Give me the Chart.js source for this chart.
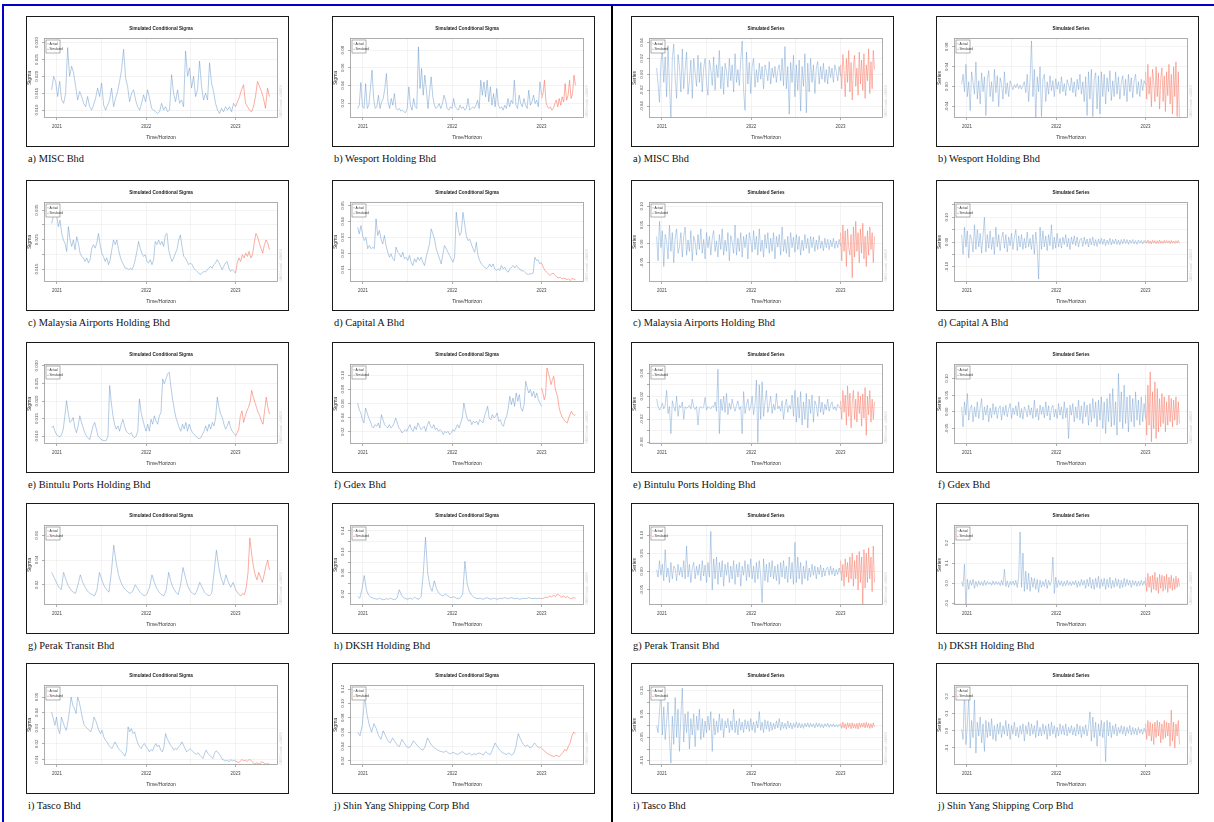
<!DOCTYPE html>
<html>
<head>
<meta charset="utf-8">
<script src="https://cdn.jsdelivr.net/npm/chart.js@4.4.0/dist/chart.umd.min.js"></script>
<style>
html, body { margin: 0; padding: 0; background: #fff; }
body { width: 1214px; height: 822px; position: relative; overflow: hidden; font-family: "Liberation Serif", "Times New Roman", serif; }
#frame { position: absolute; left: 2px; top: 4px; width: 1230px; height: 840px; border: 2px solid #0000c8; box-sizing: border-box; }
#divider { position: absolute; left: 611px; top: 6px; width: 2px; height: 816px; background: #000; }
.panel { position: absolute; width: 263px; height: 131px; border: 1.5px solid #1a1a1a; box-sizing: border-box; background: #fff; }
.panel canvas { position: absolute; left: 0; top: 0; }
.cap { position: absolute; font-size: 10.4px; line-height: 12px; color: #111; white-space: nowrap; }
</style>
</head>
<body>
<div id="frame"></div>
<div id="divider"></div>
<script>
// --- time axis ---
const T0 = 2020.94, T1 = 2023.0, T2 = 2023.38;
const xGrid = [2021, 2021.5, 2022, 2022.5, 2023];
const xLabels = ['2021', '', '2022', '', '2023'];

// --- Simulated Conditional Sigma (left half) ---
const aSigAct = [0.016,0.020,0.0185,0.014,0.0185,0.013,0.012,0.015,0.0285,0.020,0.023,0.021,0.017,0.013,0.0155,0.014,0.012,0.011,0.014,0.011,0.010,0.0115,0.0135,0.0165,0.014,0.018,0.0115,0.010,0.0115,0.013,0.0165,0.011,0.0135,0.0155,0.0185,0.022,0.028,0.0195,0.017,0.0125,0.015,0.016,0.013,0.011,0.010,0.012,0.0145,0.0125,0.016,0.0135,0.0105,0.010,0.0095,0.009,0.0095,0.012,0.010,0.011,0.0095,0.010,0.0205,0.015,0.0125,0.016,0.012,0.013,0.011,0.0275,0.020,0.0225,0.0165,0.020,0.014,0.016,0.0245,0.017,0.013,0.015,0.013,0.024,0.018,0.0155,0.012,0.010,0.009,0.0105,0.0095,0.011,0.010,0.011,0.0095,0.012,0.011];
const aSigSim = [0.011,0.0125,0.014,0.016,0.0175,0.012,0.011,0.010,0.0095,0.011,0.014,0.0185,0.017,0.0155,0.0135,0.0105,0.0165,0.014];
const aSigTicks = [0.010, 0.015, 0.020, 0.025, 0.030];
const aSigLabels = ['0.010', '0.015', '0.020', '0.025', '0.030'];

const bSigAct = [0.014,0.0177,0.0434,0.0159,0.014,0.0422,0.014,0.0177,0.0366,0.0573,0.0253,0.014,0.0159,0.029,0.014,0.0215,0.0253,0.0366,0.0536,0.0215,0.014,0.0253,0.0177,0.0309,0.014,0.0121,0.014,0.011,0.0121,0.0102,0.0094,0.014,0.0385,0.0177,0.0121,0.0253,0.0159,0.014,0.0837,0.0366,0.0592,0.029,0.0517,0.0347,0.014,0.0328,0.0498,0.0272,0.0177,0.014,0.0159,0.0196,0.014,0.0196,0.029,0.0234,0.014,0.0121,0.0159,0.014,0.0253,0.0159,0.014,0.0121,0.0177,0.014,0.0159,0.0121,0.014,0.0253,0.0121,0.014,0.0159,0.014,0.0177,0.0234,0.014,0.046,0.029,0.0441,0.0272,0.046,0.0215,0.0385,0.0177,0.0309,0.0159,0.0366,0.0177,0.014,0.0159,0.0121,0.0177,0.014,0.0253,0.0159,0.0234,0.0196,0.046,0.0177,0.014,0.029,0.0196,0.0159,0.0253,0.0177,0.014,0.0347,0.0177,0.0215,0.029,0.0196,0.0234,0.0159,0.0441,0.029];
const bSigSim = [0.0253,0.0309,0.046,0.0215,0.0159,0.014,0.0159,0.0121,0.014,0.0196,0.0234,0.0159,0.0253,0.0177,0.0272,0.0215,0.0422,0.0234,0.029,0.046,0.0253,0.0309,0.0517,0.0404];
const bSigTicks = [0.02, 0.04, 0.06, 0.08];
const bSigLabels = ['0.02', '0.04', '0.06', '0.08'];

const cSigAct = [0.0305,0.0327,0.036,0.0333,0.0294,0.0316,0.0271,0.0249,0.0238,0.021,0.0294,0.0249,0.0227,0.0249,0.0216,0.026,0.0238,0.0204,0.0193,0.0188,0.0176,0.0188,0.0171,0.0182,0.0221,0.0233,0.0221,0.0238,0.0271,0.0233,0.0204,0.0193,0.0176,0.0188,0.0165,0.0182,0.0216,0.0249,0.0233,0.0249,0.0216,0.0193,0.0176,0.0165,0.0153,0.0153,0.0148,0.0153,0.0148,0.016,0.0182,0.021,0.0244,0.0221,0.0204,0.0193,0.0199,0.0176,0.0171,0.0182,0.0165,0.0182,0.0244,0.0233,0.0249,0.0233,0.0244,0.0227,0.0266,0.0271,0.0216,0.0193,0.0176,0.0188,0.0204,0.0216,0.0249,0.0266,0.0227,0.0193,0.0188,0.0176,0.0165,0.0171,0.0165,0.0153,0.0148,0.0142,0.0137,0.0131,0.0137,0.0142,0.014,0.0148,0.0153,0.016,0.0153,0.0165,0.0171,0.0182,0.0173,0.016,0.0148,0.016,0.0171,0.0176,0.0153,0.0142,0.0148,0.0142,0.0137];
const cSigSim = [0.0137,0.0171,0.0188,0.0176,0.0199,0.0188,0.0204,0.0193,0.021,0.0188,0.0199,0.0238,0.0271,0.026,0.0238,0.0221,0.0204,0.0233,0.0249,0.0238,0.0216];
const cSigTicks = [0.015, 0.020, 0.025, 0.030, 0.035];
const cSigLabels = ['0.015', '', '0.025', '', '0.035'];

const dSigAct = [0.0365,0.0323,0.0375,0.0313,0.0281,0.03,0.023,0.025,0.023,0.024,0.023,0.0417,0.0313,0.0344,0.029,0.026,0.0313,0.025,0.0208,0.0177,0.0198,0.0167,0.0156,0.024,0.0208,0.0198,0.0177,0.0208,0.0167,0.0177,0.0156,0.0188,0.0146,0.0125,0.0167,0.0146,0.0177,0.0156,0.0177,0.0146,0.0125,0.0177,0.0219,0.026,0.0354,0.0323,0.029,0.023,0.0198,0.0167,0.0135,0.0198,0.025,0.023,0.0208,0.0188,0.0167,0.0146,0.0177,0.0458,0.0365,0.0313,0.0333,0.0458,0.0385,0.0313,0.0281,0.029,0.026,0.023,0.0208,0.027,0.0188,0.0156,0.0135,0.0125,0.0115,0.0104,0.0115,0.0135,0.0115,0.0135,0.0104,0.0094,0.0104,0.0094,0.0125,0.0104,0.0115,0.0094,0.0083,0.0104,0.0115,0.0125,0.011,0.0125,0.011,0.0104,0.009,0.0094,0.0083,0.0073,0.0069,0.0073,0.0073,0.0077,0.0177,0.0156,0.016,0.0135,0.0146];
const dSigSim = [0.014,0.0115,0.0094,0.0083,0.0073,0.0063,0.0073,0.0077,0.0063,0.0052,0.0048,0.0052,0.0042,0.0046,0.0042,0.0038,0.004,0.0031,0.0044,0.004,0.0035];
const dSigTicks = [0.01, 0.02, 0.03, 0.04, 0.05];
const dSigLabels = ['0.01', '0.02', '0.03', '0.04', '0.05'];

const eSigAct = [0.0124,0.0129,0.0114,0.0104,0.01,0.0098,0.0104,0.012,0.0158,0.0201,0.0167,0.0139,0.0143,0.0153,0.0124,0.011,0.0129,0.0158,0.0139,0.0124,0.011,0.01,0.0095,0.009,0.011,0.0129,0.0139,0.012,0.01,0.0095,0.009,0.0088,0.0087,0.0088,0.01,0.0244,0.0196,0.0158,0.0134,0.012,0.0129,0.0114,0.0134,0.0148,0.0129,0.0114,0.011,0.0105,0.011,0.01,0.0095,0.01,0.0114,0.0206,0.0167,0.0148,0.0129,0.0114,0.0134,0.0114,0.0148,0.0134,0.0158,0.0143,0.0134,0.0158,0.0167,0.0263,0.0249,0.0263,0.0277,0.0282,0.0239,0.0206,0.0177,0.0153,0.0139,0.0124,0.0114,0.0134,0.012,0.0139,0.0114,0.0134,0.012,0.011,0.0105,0.01,0.0095,0.0093,0.0095,0.0105,0.0114,0.0129,0.0114,0.0134,0.012,0.0139,0.0129,0.0153,0.0211,0.0182,0.0163,0.0153,0.0134,0.012,0.0129,0.0143,0.0124,0.0114,0.0108,0.0102];
const eSigSim = [0.01,0.011,0.012,0.0158,0.0172,0.0139,0.0158,0.0172,0.0182,0.0196,0.023,0.0211,0.0196,0.0182,0.0167,0.0158,0.0143,0.0134,0.0172,0.0211,0.0182,0.0163];
const eSigTicks = [0.010, 0.015, 0.020, 0.025, 0.030];
const eSigLabels = ['0.010', '0.015', '0.020', '0.025', '0.030'];

const fSigAct = [0.0607,0.0513,0.0466,0.0372,0.0325,0.0536,0.0466,0.0395,0.0348,0.0278,0.0254,0.0301,0.0278,0.0325,0.0254,0.0442,0.0372,0.0301,0.0278,0.0254,0.0301,0.0254,0.0278,0.0325,0.0395,0.0325,0.0254,0.0231,0.0184,0.0207,0.0231,0.0207,0.0254,0.0301,0.0231,0.0207,0.0278,0.0231,0.0325,0.0278,0.0231,0.0254,0.0278,0.0207,0.0301,0.0348,0.0278,0.0254,0.0301,0.0231,0.0254,0.0207,0.0231,0.0207,0.016,0.0207,0.0184,0.0207,0.016,0.0184,0.0231,0.0207,0.0254,0.0301,0.0254,0.0325,0.0395,0.0607,0.0489,0.0395,0.0348,0.0372,0.0301,0.0348,0.0325,0.0348,0.0301,0.0372,0.0348,0.0325,0.0419,0.0489,0.056,0.0395,0.0372,0.0442,0.0395,0.0419,0.0466,0.0348,0.0372,0.0301,0.0278,0.0372,0.0419,0.0536,0.0701,0.0584,0.0678,0.056,0.0748,0.0631,0.0725,0.0536,0.0489,0.0584,0.0913,0.0819,0.0748,0.0795,0.0701,0.0772,0.0678,0.0748,0.0654,0.0607,0.056];
const fSigSim = [0.0819,0.0748,0.0654,0.0725,0.1101,0.103,0.096,0.0866,0.0936,0.0983,0.0819,0.0748,0.0678,0.0536,0.0466,0.0419,0.0386,0.0358,0.0339,0.0325,0.0395,0.0442,0.0489,0.0452,0.0433,0.0442];
const fSigTicks = [0.02, 0.04, 0.06, 0.08, 0.10];
const fSigLabels = ['0.02', '0.04', '0.06', '0.08', '0.10'];

const gSigAct = [0.030,0.026,0.022,0.018,0.016,0.030,0.024,0.019,0.016,0.014,0.013,0.020,0.028,0.022,0.018,0.015,0.013,0.012,0.011,0.016,0.030,0.024,0.019,0.016,0.014,0.030,0.052,0.038,0.028,0.022,0.018,0.016,0.014,0.013,0.015,0.020,0.017,0.014,0.012,0.011,0.013,0.018,0.028,0.022,0.017,0.014,0.012,0.011,0.016,0.030,0.022,0.017,0.014,0.012,0.020,0.034,0.026,0.019,0.015,0.013,0.012,0.016,0.022,0.018,0.014,0.012,0.011,0.013,0.030,0.048,0.034,0.025,0.020,0.028,0.022,0.018,0.022,0.016];
const gSigSim = [0.016,0.014,0.012,0.011,0.013,0.012,0.018,0.030,0.058,0.045,0.035,0.028,0.024,0.030,0.026,0.022,0.028,0.035,0.040,0.032];
const gSigTicks = [0.02, 0.04, 0.06];
const gSigLabels = ['0.02', '0.04', '0.06'];

const hSigAct = [0.015,0.012,0.030,0.055,0.028,0.018,0.014,0.012,0.011,0.010,0.012,0.010,0.009,0.011,0.010,0.012,0.010,0.009,0.012,0.028,0.018,0.013,0.011,0.010,0.012,0.010,0.014,0.011,0.010,0.015,0.060,0.128,0.060,0.035,0.025,0.045,0.030,0.022,0.018,0.016,0.020,0.017,0.014,0.013,0.015,0.012,0.011,0.013,0.020,0.082,0.040,0.025,0.018,0.014,0.012,0.011,0.012,0.010,0.011,0.013,0.011,0.010,0.012,0.011,0.010,0.012,0.011,0.013,0.012,0.011,0.013,0.012,0.011,0.012,0.010,0.011,0.012,0.011,0.013,0.012,0.011,0.012,0.011,0.012,0.011];
const hSigSim = [0.011,0.012,0.014,0.013,0.016,0.014,0.018,0.015,0.020,0.017,0.014,0.016,0.013,0.015,0.012,0.011,0.013,0.012];
const hSigTicks = [0.02, 0.04, 0.06, 0.08, 0.10, 0.12, 0.14];
const hSigLabels = ['0.02', '', '0.06', '', '0.10', '', '0.14'];

const iSigAct = [0.0404,0.0362,0.0319,0.0372,0.0298,0.0266,0.0372,0.034,0.0309,0.0287,0.034,0.0415,0.05,0.0447,0.0426,0.0394,0.05,0.0468,0.0415,0.0362,0.0319,0.0309,0.0298,0.0287,0.0277,0.0309,0.0372,0.0351,0.0319,0.0287,0.0266,0.0287,0.0245,0.0223,0.0213,0.0192,0.0181,0.017,0.0192,0.0213,0.0192,0.017,0.016,0.0149,0.0138,0.0121,0.0155,0.0309,0.0277,0.0298,0.0266,0.0277,0.0234,0.0202,0.0181,0.017,0.0192,0.0202,0.0181,0.017,0.0149,0.0164,0.0155,0.0181,0.0202,0.0181,0.0192,0.016,0.0149,0.0181,0.0266,0.0234,0.0213,0.0192,0.0181,0.016,0.017,0.0164,0.0181,0.0192,0.0213,0.0192,0.017,0.0149,0.016,0.017,0.016,0.0149,0.0138,0.0134,0.0143,0.0128,0.0117,0.0106,0.0138,0.016,0.0138,0.0128,0.0117,0.0106,0.0138,0.0155,0.0149,0.0134,0.0117,0.01,0.0096,0.0091,0.0096,0.0085,0.01,0.0091,0.0096,0.0091];
const iSigSim = [0.0089,0.0085,0.0079,0.0091,0.01,0.0091,0.0096,0.0087,0.0096,0.01,0.0089,0.0079,0.007,0.0079,0.0074,0.007,0.0085,0.0083,0.0074,0.007,0.0074,0.007];
const iSigTicks = [0.01, 0.02, 0.03, 0.04, 0.05];
const iSigLabels = ['0.01', '0.02', '0.03', '0.04', '0.05'];

const jSigAct = [0.060,0.055,0.070,0.110,0.085,0.070,0.060,0.072,0.065,0.055,0.050,0.062,0.055,0.048,0.045,0.052,0.047,0.042,0.040,0.050,0.045,0.040,0.038,0.042,0.048,0.044,0.040,0.037,0.035,0.040,0.052,0.046,0.041,0.038,0.036,0.034,0.033,0.032,0.034,0.031,0.030,0.032,0.030,0.029,0.031,0.033,0.030,0.029,0.031,0.028,0.030,0.029,0.031,0.030,0.028,0.033,0.030,0.029,0.036,0.045,0.040,0.035,0.032,0.030,0.029,0.031,0.028,0.030,0.040,0.058,0.050,0.044,0.040,0.042,0.038,0.040,0.045,0.041,0.038,0.040];
const jSigSim = [0.038,0.035,0.033,0.031,0.029,0.028,0.027,0.026,0.028,0.027,0.026,0.029,0.032,0.036,0.034,0.040,0.045,0.055,0.060,0.058];
const jSigTicks = [0.02, 0.04, 0.06, 0.08, 0.10, 0.12];
const jSigLabels = ['0.02', '0.04', '0.06', '0.08', '0.10', '0.12'];

// --- Simulated Series (right half) ---
const aSerAct = [0.008,-0.012,-0.035,0.015,0.030,-0.010,0.022,-0.028,0.036,-0.015,-0.055,0.020,0.038,-0.005,-0.030,0.025,0.010,-0.022,0.032,-0.018,0.005,0.028,-0.025,-0.008,0.018,-0.030,0.020,0.002,-0.015,0.024,-0.010,0.015,-0.022,0.008,0.020,-0.012,-0.026,0.018,0.006,-0.014,0.022,-0.020,0.012,-0.004,0.030,-0.018,0.010,-0.025,0.014,0.004,-0.016,0.020,-0.008,0.012,-0.022,0.026,-0.010,0.006,-0.014,0.018,0.042,-0.020,-0.045,0.028,-0.012,0.015,-0.024,0.010,0.020,-0.016,0.006,-0.010,0.014,-0.006,0.010,-0.018,0.012,0.004,-0.008,0.016,-0.012,0.008,-0.004,0.010,-0.010,0.006,0.012,-0.008,0.020,-0.014,0.035,-0.018,0.010,-0.050,0.015,-0.010,0.024,-0.028,0.012,-0.020,0.018,-0.046,0.010,-0.015,0.026,-0.048,0.014,-0.022,0.020,-0.010,0.012,-0.024,0.008,0.016,-0.012,0.010,-0.006,0.014,-0.010,0.006,-0.012,0.010,-0.004,0.008,-0.010,0.012,0.004,-0.008,0.010,-0.002];
const aSerSim = [0.012,-0.018,0.025,0.005,-0.028,0.020,-0.010,0.030,-0.022,0.015,-0.032,0.010,0.024,-0.015,0.008,-0.026,0.028,-0.012,0.018,-0.020,0.026,-0.030,0.012,-0.008,0.032,-0.024,0.016,-0.018,0.030,0.006];
const aSerTicks = [-0.04, -0.02, 0.00, 0.02, 0.04];
const aSerLabels = ['-0.04', '-0.02', '0.00', '0.02', '0.04'];

const bSerAct = [0.005,0.025,-0.010,0.045,-0.020,0.010,-0.048,0.030,0.008,-0.015,0.050,-0.025,0.012,-0.035,0.028,-0.010,0.020,-0.058,0.015,0.032,-0.020,0.010,-0.030,0.035,-0.012,0.022,-0.040,0.018,0.005,-0.025,0.030,-0.015,0.008,-0.020,0.012,0.002,-0.006,0.004,-0.002,0.006,-0.004,0.003,-0.005,0.002,0.010,-0.012,0.025,-0.030,0.015,0.092,-0.020,0.035,-0.065,0.020,-0.010,0.040,-0.060,0.015,0.025,-0.030,0.010,-0.015,0.022,-0.008,0.012,-0.020,0.016,-0.005,0.010,-0.014,0.020,-0.010,0.006,-0.018,0.014,0.004,-0.008,0.018,-0.012,0.010,-0.020,0.015,-0.006,0.025,-0.015,0.010,-0.030,0.020,-0.058,0.030,-0.025,0.035,-0.060,0.015,0.028,-0.045,0.022,-0.055,0.030,-0.020,0.025,-0.035,0.018,-0.010,0.032,-0.028,0.012,-0.020,0.030,-0.015,0.020,-0.025,0.008,0.022,-0.018,0.015,-0.030,0.025,-0.010,0.018,-0.022,0.012,0.025,-0.015,0.010,-0.020,0.015,-0.008,0.012,0.004];
const bSerSim = [0.030,-0.025,0.045,-0.015,0.020,-0.040,0.035,0.010,-0.030,0.040,-0.020,0.028,-0.045,0.015,0.038,-0.030,0.022,-0.050,0.030,-0.018,0.045,-0.035,0.025,-0.055,0.040,-0.020,0.050,-0.060,0.030,-0.065];
const bSerTicks = [-0.04, 0.00, 0.04, 0.08];
const bSerLabels = ['-0.04', '0.00', '0.04', '0.08'];

const cSerAct = [0.020,-0.045,0.060,-0.010,0.035,-0.060,0.025,0.008,-0.040,0.050,-0.020,0.030,-0.050,0.015,0.040,-0.025,-0.008,0.030,-0.035,0.020,0.045,-0.030,0.010,-0.020,0.035,-0.045,0.020,0.005,-0.030,0.025,-0.015,0.040,-0.025,0.012,-0.040,0.030,-0.010,0.020,-0.030,0.015,0.035,-0.020,0.008,-0.035,0.025,-0.015,0.040,-0.030,0.010,-0.020,0.030,-0.045,0.022,0.005,-0.025,0.050,-0.030,0.015,-0.020,0.030,-0.035,0.020,-0.010,0.025,-0.040,0.030,0.008,-0.022,0.035,-0.015,0.020,-0.030,0.040,-0.020,0.010,-0.035,0.025,-0.012,0.030,-0.025,0.015,-0.020,0.030,-0.040,0.020,-0.008,0.025,-0.030,0.045,-0.020,0.012,-0.025,0.020,-0.035,0.030,-0.010,0.018,-0.022,0.025,-0.015,0.020,-0.030,0.010,-0.018,0.025,-0.012,0.015,-0.025,0.020,-0.010,0.018,-0.020,0.010,-0.015,0.022,-0.012,0.008,-0.018,0.015,-0.010,0.012,-0.015,0.010,-0.008,0.015,-0.012,0.008,-0.010,0.012,-0.006];
const cSerSim = [0.030,-0.045,0.050,-0.020,0.035,-0.060,0.040,-0.010,-0.030,0.025,-0.090,0.045,-0.035,0.060,-0.020,0.030,-0.050,0.040,-0.025,0.055,-0.040,0.020,-0.060,0.035,-0.030,0.045,-0.015,0.030,-0.050,0.020];
const cSerTicks = [-0.05, 0.00, 0.05, 0.10];
const cSerLabels = ['-0.05', '0.00', '0.05', '0.10'];

const dSerAct = [0.030,-0.050,0.060,-0.020,0.045,-0.065,0.030,0.010,-0.040,0.070,-0.030,0.050,-0.020,0.035,-0.045,0.025,0.100,-0.040,0.030,-0.025,0.045,-0.030,0.020,-0.050,0.060,-0.020,0.030,-0.035,0.015,0.040,-0.025,0.030,-0.040,0.020,-0.015,0.035,-0.030,0.020,0.050,-0.035,0.025,-0.020,0.030,-0.030,0.015,-0.025,0.040,-0.020,0.015,-0.030,0.030,-0.050,0.040,-0.020,-0.150,0.060,-0.030,0.045,-0.020,0.025,-0.035,0.030,-0.015,0.070,-0.030,0.020,-0.025,0.035,-0.020,0.015,-0.025,0.020,-0.010,0.030,-0.020,0.015,-0.030,0.020,-0.010,0.025,-0.015,0.020,-0.020,0.010,0.015,-0.018,0.020,-0.010,0.012,-0.020,0.015,-0.012,0.020,-0.015,0.010,-0.018,0.012,-0.008,0.015,-0.010,0.012,-0.015,0.008,-0.010,0.015,-0.012,0.010,-0.008,0.012,-0.010,0.008,-0.012,0.010,-0.008,0.012,-0.006,0.010,-0.010,0.008,-0.006,0.010,-0.008,0.006,-0.010,0.008,-0.005,0.007,-0.008,0.006,-0.004];
const dSerSim = [0.006,-0.005,0.008,-0.006,0.004,-0.008,0.007,-0.004,0.006,-0.007,0.005,-0.006,0.008,-0.005,0.004,-0.006,0.007,-0.005,0.006,-0.004,0.005,-0.007,0.006,-0.005,0.004,-0.006,0.005,-0.004,0.006,-0.005];
const dSerTicks = [-0.10, -0.05, 0.00, 0.05, 0.10, 0.15];
const dSerLabels = ['-0.10', '', '0.00', '', '0.10', ''];

const eSerAct = [0.015,0.002,-0.004,0.000,0.008,-0.002,0.004,0.030,-0.010,0.002,-0.045,0.012,0.002,-0.006,0.020,-0.015,0.004,0.000,0.010,-0.020,0.002,-0.001,0.001,0.004,-0.002,0.015,0.001,-0.003,0.002,-0.030,0.000,0.002,-0.001,0.001,0.018,-0.004,0.002,0.000,-0.002,0.003,0.001,0.010,-0.006,0.067,-0.045,0.015,-0.005,0.020,-0.008,0.025,-0.012,0.008,-0.003,0.015,0.002,-0.006,0.004,0.012,-0.003,0.002,-0.045,0.028,-0.010,0.004,0.015,-0.005,0.002,0.020,-0.012,0.006,0.048,-0.060,0.040,-0.020,0.045,-0.015,0.010,0.030,-0.008,0.004,0.020,-0.010,0.006,-0.004,0.025,-0.002,0.003,-0.006,0.012,-0.020,0.002,0.015,-0.008,0.004,-0.002,0.022,-0.015,0.030,-0.025,0.018,-0.018,0.028,-0.030,0.010,-0.020,0.025,-0.035,0.015,-0.010,0.022,-0.025,0.012,0.004,-0.015,0.020,-0.008,0.010,-0.012,0.006,-0.004,0.015,-0.006,0.004,0.010,-0.003,0.002,-0.005,0.006,0.002,-0.002];
const eSerSim = [0.012,-0.020,0.030,-0.008,0.022,-0.030,0.038,-0.015,0.025,-0.035,0.010,0.030,-0.020,0.015,-0.025,0.028,-0.010,0.020,-0.032,0.024,-0.018,0.035,-0.048,0.020,-0.012,0.030,-0.025,0.015,-0.020,0.010];
const eSerTicks = [-0.06, -0.04, -0.02, 0.00, 0.02, 0.04, 0.06];
const eSerLabels = ['-0.06', '', '-0.02', '', '0.02', '', '0.06'];

const fSerAct = [0.015,-0.045,0.030,-0.010,0.055,-0.025,0.010,0.020,-0.030,0.015,-0.015,0.030,-0.020,0.010,0.040,-0.025,0.015,-0.010,0.020,-0.030,0.012,-0.018,0.025,-0.008,0.015,-0.020,0.010,0.018,-0.025,0.015,-0.010,0.020,-0.015,0.008,0.025,-0.020,0.012,-0.008,0.018,-0.012,0.030,-0.018,0.010,-0.022,0.015,0.005,-0.015,0.020,-0.010,0.012,-0.020,0.035,-0.015,0.010,-0.025,0.020,-0.008,0.015,-0.018,0.030,-0.012,0.018,-0.025,0.010,0.020,-0.015,0.008,-0.020,0.025,-0.010,0.015,-0.022,0.030,-0.018,0.012,-0.080,0.020,-0.010,0.025,-0.030,0.015,-0.020,0.035,-0.025,0.018,-0.035,0.030,-0.015,0.020,-0.040,0.025,-0.030,0.040,-0.020,0.030,-0.045,0.035,-0.025,0.045,-0.050,0.030,-0.065,0.040,-0.030,0.055,-0.045,0.070,-0.040,0.030,-0.070,0.115,-0.030,0.060,-0.050,0.080,-0.035,0.045,-0.060,0.050,-0.030,0.040,-0.045,0.060,-0.025,0.035,-0.040,0.045,-0.030,0.025,-0.020];
const fSerSim = [0.050,-0.070,0.080,-0.040,0.120,-0.090,0.060,-0.050,0.090,-0.080,0.070,-0.060,0.040,-0.045,0.055,-0.035,0.045,-0.060,0.030,-0.040,0.050,-0.030,0.040,-0.045,0.035,-0.025,0.045,-0.040,0.030,-0.035];
const fSerTicks = [-0.05, 0.00, 0.05, 0.10];
const fSerLabels = ['-0.05', '0.00', '0.05', '0.10'];

const gSerAct = [0.005,-0.015,0.030,-0.010,0.020,-0.025,0.060,-0.015,0.010,-0.030,0.025,-0.020,0.015,0.008,-0.025,0.020,-0.010,0.012,-0.015,0.030,-0.020,0.070,-0.015,0.020,-0.030,0.010,0.025,-0.020,0.015,-0.010,0.020,-0.025,0.030,-0.012,0.018,-0.030,0.025,-0.015,0.110,-0.050,0.035,-0.020,0.040,-0.035,0.025,-0.015,0.030,-0.040,0.020,-0.010,0.025,-0.030,0.015,-0.020,0.030,-0.035,0.020,-0.015,0.025,-0.040,0.015,-0.010,0.030,-0.025,0.020,-0.015,0.035,-0.020,0.015,-0.030,0.025,-0.020,0.030,-0.015,-0.085,0.035,-0.025,0.020,-0.030,0.025,-0.015,0.030,-0.020,0.015,-0.025,0.020,-0.035,0.025,-0.015,0.030,-0.020,0.015,-0.030,0.040,-0.020,0.025,-0.035,0.080,-0.030,0.040,-0.020,0.025,-0.035,0.015,-0.020,0.030,-0.025,0.010,-0.015,0.020,-0.010,0.015,-0.020,0.012,-0.008,0.018,-0.015,0.010,-0.012,0.008,0.012,-0.010,0.015,-0.008,0.010,-0.012,0.006,-0.008,0.010,-0.005];
const gSerSim = [0.030,-0.025,0.020,-0.040,0.035,-0.015,0.025,-0.030,0.040,-0.020,0.050,-0.040,0.030,-0.020,0.045,-0.050,0.055,-0.030,0.040,-0.090,0.060,-0.045,0.050,-0.030,0.065,-0.020,0.040,-0.055,0.070,-0.030];
const gSerTicks = [-0.05, 0.00, 0.05, 0.10];
const gSerLabels = ['-0.05', '0.00', '0.05', '0.10'];

const hSerAct = [0.010,-0.015,0.095,-0.110,0.020,-0.030,0.015,-0.010,0.020,-0.025,0.010,-0.015,0.012,-0.010,0.008,-0.012,0.015,-0.010,0.010,-0.005,0.006,-0.010,0.012,-0.008,0.010,-0.006,0.008,-0.012,0.015,-0.010,0.070,-0.015,0.012,-0.020,0.010,-0.008,0.012,-0.010,0.015,-0.020,0.030,0.255,-0.020,0.150,-0.040,0.060,-0.030,0.050,-0.040,0.030,-0.020,0.025,-0.030,0.020,-0.045,0.015,-0.020,0.010,-0.015,0.020,-0.025,0.015,-0.010,0.012,0.130,-0.050,0.030,-0.020,0.015,-0.010,0.012,-0.015,0.010,-0.012,0.015,-0.010,0.008,-0.012,0.010,-0.008,0.015,-0.020,0.010,-0.015,0.020,-0.010,0.015,-0.025,0.020,-0.015,0.030,-0.025,0.020,-0.030,0.025,-0.020,0.035,-0.025,0.020,-0.015,0.025,-0.030,0.020,-0.020,0.030,-0.025,0.015,-0.020,0.025,-0.015,0.020,-0.025,0.015,-0.020,0.025,-0.015,0.020,-0.010,0.015,-0.020,0.015,-0.010,0.012,-0.015,0.010,-0.012,0.015,-0.010,0.012,-0.008];
const hSerSim = [0.030,-0.040,0.050,-0.020,0.035,-0.045,0.040,-0.030,0.055,-0.035,0.030,-0.050,0.045,-0.025,0.040,-0.040,0.035,-0.030,0.045,-0.045,0.030,-0.025,0.040,-0.035,0.025,-0.030,0.035,-0.020,0.025,-0.015];
const hSerTicks = [-0.1, 0.0, 0.1, 0.2];
const hSerLabels = ['-0.1', '0.0', '0.1', '0.2'];

const iSerAct = [0.000,-0.030,0.060,0.150,-0.040,0.080,-0.060,0.020,0.100,-0.060,-0.160,0.040,-0.080,0.120,-0.050,0.070,-0.110,0.040,0.160,-0.070,0.050,-0.030,0.060,-0.100,0.030,-0.040,0.050,-0.090,0.040,-0.020,0.070,-0.060,0.030,-0.050,0.020,-0.030,0.040,-0.020,0.060,-0.110,0.030,-0.040,0.020,-0.030,0.050,-0.020,0.030,-0.050,0.020,-0.010,0.030,-0.030,0.020,-0.020,0.070,-0.030,0.020,-0.040,0.030,-0.020,0.015,-0.030,0.025,-0.015,0.020,-0.025,0.030,-0.020,0.015,-0.030,0.020,-0.010,0.060,-0.020,0.015,-0.030,0.025,-0.015,0.020,-0.025,0.015,-0.020,0.010,-0.015,0.020,-0.010,0.030,-0.020,0.015,-0.012,0.010,-0.015,0.020,-0.010,0.012,-0.015,0.010,-0.008,0.015,-0.010,0.012,-0.010,0.008,-0.012,0.010,-0.006,0.012,-0.008,0.010,-0.006,0.008,-0.010,0.012,-0.006,0.010,-0.008,0.006,-0.010,0.008,-0.004,0.010,-0.008,0.006,-0.005,0.008,-0.006,0.004,-0.007,0.005,-0.004];
const iSerSim = [0.010,-0.012,0.015,-0.010,0.008,-0.015,0.012,-0.008,0.010,-0.014,0.012,-0.010,0.008,-0.012,0.010,-0.015,0.012,-0.008,0.010,-0.006,0.012,-0.010,0.014,-0.008,0.010,-0.012,0.008,-0.010,0.012,-0.006];
const iSerTicks = [-0.15, -0.10, -0.05, 0.00, 0.05, 0.10, 0.15];
const iSerLabels = ['-0.15', '', '-0.05', '', '0.05', '', '0.15'];

const jSerAct = [0.010,-0.050,0.240,-0.080,0.030,0.200,-0.100,0.060,-0.040,0.180,-0.130,0.050,-0.030,0.080,-0.070,0.040,-0.120,0.060,-0.040,0.050,-0.030,0.070,-0.050,0.030,-0.060,0.040,-0.020,0.050,-0.040,0.030,-0.020,0.060,-0.030,0.040,-0.050,0.030,-0.020,0.050,-0.030,0.020,-0.040,0.030,-0.020,0.040,-0.060,0.030,-0.020,0.050,-0.030,0.040,-0.020,0.030,-0.040,0.060,-0.030,0.020,-0.030,0.040,-0.020,0.030,-0.050,0.040,-0.030,0.050,-0.020,0.030,-0.040,0.020,-0.030,0.040,-0.020,0.030,-0.025,0.040,-0.030,0.020,-0.015,0.030,-0.025,0.020,-0.030,0.040,-0.020,0.030,-0.040,0.025,-0.020,0.035,-0.030,0.020,0.110,-0.060,0.080,-0.040,0.050,-0.090,0.040,-0.030,0.060,-0.040,0.050,-0.180,0.060,-0.030,0.050,-0.040,0.030,-0.020,0.040,-0.030,0.020,-0.015,0.030,-0.020,0.025,-0.030,0.020,-0.015,0.030,-0.025,0.020,-0.020,0.015,-0.025,0.020,-0.015,0.010,-0.020,0.015,-0.010];
const jSerSim = [0.040,-0.050,0.060,-0.030,0.050,-0.060,0.040,-0.080,0.050,-0.040,0.060,-0.030,0.050,-0.070,0.040,-0.050,0.060,-0.040,0.050,-0.030,0.045,-0.090,0.120,-0.060,0.050,-0.100,0.040,-0.030,0.060,-0.080];
const jSerTicks = [-0.1, 0.0, 0.1, 0.2];
const jSerLabels = ['-0.1', '0.0', '0.1', '0.2'];

// --- layout ---
const colX = [26, 332, 631, 936];
const rowY = [16, 180, 342, 503, 663];
const names = ['a) MISC Bhd', 'b) Wesport Holding Bhd', 'c) Malaysia Airports Holding Bhd', 'd) Capital A Bhd',
  'e) Bintulu Ports Holding Bhd', 'f) Gdex Bhd', 'g) Perak Transit Bhd', 'h) DKSH Holding Bhd',
  'i) Tasco Bhd', 'j) Shin Yang Shipping Corp Bhd'];

const sigmaPanels = [
  { act: aSigAct, sim: aSigSim, tv: aSigTicks, tl: aSigLabels, min: 0.0078, max: 0.0312 },
  { act: bSigAct, sim: bSigSim, tv: bSigTicks, tl: bSigLabels, min: 0.0038, max: 0.0932 },
  { act: cSigAct, sim: cSigSim, tv: cSigTicks, tl: cSigLabels, min: 0.0108, max: 0.0376 },
  { act: dSigAct, sim: dSigSim, tv: dSigTicks, tl: dSigLabels, min: 0.0025, max: 0.0519 },
  { act: eSigAct, sim: eSigSim, tv: eSigTicks, tl: eSigLabels, min: 0.0079, max: 0.0304 },
  { act: fSigAct, sim: fSigSim, tv: fSigTicks, tl: fSigLabels, min: 0.0035, max: 0.115 },
  { act: gSigAct, sim: gSigSim, tv: gSigTicks, tl: gSigLabels, min: 0.004, max: 0.068 },
  { act: hSigAct, sim: hSigSim, tv: hSigTicks, tl: hSigLabels, min: 0.0, max: 0.15 },
  { act: iSigAct, sim: iSigSim, tv: iSigTicks, tl: iSigLabels, min: 0.0068, max: 0.0574 },
  { act: jSigAct, sim: jSigSim, tv: jSigTicks, tl: jSigLabels, min: 0.015, max: 0.125 }
];
const seriesPanels = [
  { act: aSerAct, sim: aSerSim, tv: aSerTicks, tl: aSerLabels, min: -0.054, max: 0.045 },
  { act: bSerAct, sim: bSerSim, tv: bSerTicks, tl: bSerLabels, min: -0.062, max: 0.097 },
  { act: cSerAct, sim: cSerSim, tv: cSerTicks, tl: cSerLabels, min: -0.10, max: 0.11 },
  { act: dSerAct, sim: dSerSim, tv: dSerTicks, tl: dSerLabels, min: -0.16, max: 0.16 },
  { act: eSerAct, sim: eSerSim, tv: eSerTicks, tl: eSerLabels, min: -0.062, max: 0.075 },
  { act: fSerAct, sim: fSerSim, tv: fSerTicks, tl: fSerLabels, min: -0.095, max: 0.142 },
  { act: gSerAct, sim: gSerSim, tv: gSerTicks, tl: gSerLabels, min: -0.09, max: 0.126 },
  { act: hSerAct, sim: hSerSim, tv: hSerTicks, tl: hSerLabels, min: -0.105, max: 0.287 },
  { act: iSerAct, sim: iSerSim, tv: iSerTicks, tl: iSerLabels, min: -0.166, max: 0.171 },
  { act: jSerAct, sim: jSerSim, tv: jSerTicks, tl: jSerLabels, min: -0.196, max: 0.263 }
];

const FONT = '"Liberation Sans", Arial, sans-serif';
const BLUE = 'rgba(92,144,198,0.66)';
const RED = 'rgba(248,116,96,0.85)';

// extra drawing in R style: box, title, rotated y labels, legend, side note
const decor = {
  id: 'decor',
  afterDraw(chart, args, o) {
    const ctx = chart.ctx, a = chart.chartArea, y = chart.scales.y;
    const cx = (a.left + a.right) / 2;
    ctx.save();
    ctx.strokeStyle = '#9a9a9a';
    ctx.lineWidth = 0.8;
    ctx.strokeRect(a.left, a.top, a.right - a.left, a.bottom - a.top);

    ctx.textAlign = 'center';
    ctx.textBaseline = 'middle';
    ctx.fillStyle = '#222';
    ctx.font = 'bold 4.6px ' + FONT;
    ctx.fillText(o.title, cx, 11.5);

    ctx.font = '4.4px ' + FONT;
    ctx.fillStyle = '#555';
    y.ticks.forEach((t, i) => {
      const lab = o.labels[i];
      if (!lab) return;
      ctx.save();
      ctx.translate(9.5, y.getPixelForValue(t.value));
      ctx.rotate(-Math.PI / 2);
      ctx.fillText(lab, 0, 0);
      ctx.restore();
    });

    ctx.fillStyle = '#333';
    ctx.font = '5px ' + FONT;
    ctx.save();
    ctx.translate(2.6, (a.top + a.bottom) / 2);
    ctx.rotate(-Math.PI / 2);
    ctx.fillText(o.ylab, 0, 0);
    ctx.restore();
    ctx.fillText('Time/Horizon', cx, 120.5);

    // legend box
    const lx = a.left + 1.5, ly = a.top + 1.5;
    ctx.fillStyle = '#fff';
    ctx.fillRect(lx, ly, 14, 13);
    ctx.strokeStyle = '#666';
    ctx.lineWidth = 0.5;
    ctx.strokeRect(lx, ly, 14, 13);
    ctx.font = '3px ' + FONT;
    ctx.textAlign = 'left';
    ctx.lineWidth = 0.8;
    [['Actual', BLUE, 3.8], ['Simulated', RED, 9.3]].forEach(([txt, col, dy]) => {
      ctx.strokeStyle = col;
      ctx.beginPath();
      ctx.moveTo(lx + 1.2, ly + dy);
      ctx.lineTo(lx + 2.8, ly + dy);
      ctx.stroke();
      ctx.fillStyle = '#333';
      ctx.fillText(txt, lx + 3.6, ly + dy);
    });

    // faint side note
    ctx.save();
    ctx.fillStyle = '#cfcfcf';
    ctx.font = '2.8px ' + FONT;
    ctx.translate(a.right + 3.6, a.bottom);
    ctx.rotate(-Math.PI / 2);
    ctx.fillText('GARCH model : sGARCH', 0, 0);
    ctx.restore();
    ctx.restore();
  }
};
Chart.register(decor);

function spread(n, from, to) {
  const out = [];
  for (let i = 0; i < n; i++) out.push(from + (to - from) * i / (n - 1));
  return out;
}

function makePanel(left, top, caption, kind, p) {
  const box = document.createElement('div');
  box.className = 'panel';
  box.style.left = left + 'px';
  box.style.top = top + 'px';
  const cv = document.createElement('canvas');
  cv.width = 260;
  cv.height = 128;
  cv.style.width = '260px';
  cv.style.height = '128px';
  box.appendChild(cv);
  document.body.appendChild(box);

  const cap = document.createElement('div');
  cap.className = 'cap';
  cap.textContent = caption;
  cap.style.left = (left + 2) + 'px';
  cap.style.top = (top + 137) + 'px';
  document.body.appendChild(cap);

  const ta = spread(p.act.length, T0, T1);
  const ts = spread(p.sim.length, T1, T2);
  const isSigma = kind === 'sigma';
  const lw = isSigma ? 0.7 : 0.6;

  new Chart(cv, {
    type: 'line',
    data: {
      datasets: [
        { data: p.act.map((v, i) => ({ x: ta[i], y: v })), borderColor: BLUE, borderWidth: lw, pointRadius: 0, tension: 0 },
        { data: p.sim.map((v, i) => ({ x: ts[i], y: v })), borderColor: RED, borderWidth: lw, pointRadius: 0, tension: 0 }
      ]
    },
    options: {
      responsive: false,
      animation: false,
      devicePixelRatio: 1,
      layout: { padding: { left: 0, top: 21.5, right: 9.5, bottom: 0 } },
      plugins: {
        legend: { display: false },
        tooltip: { enabled: false },
        decor: {
          title: isSigma ? 'Simulated Conditional Sigma' : 'Simulated Series',
          ylab: isSigma ? 'Sigma' : 'Series',
          labels: p.tl
        }
      },
      scales: {
        x: {
          type: 'linear',
          min: 2020.86,
          max: 2023.47,
          afterBuildTicks: s => { s.ticks = xGrid.map(v => ({ value: v })); },
          afterFit: s => { s.height = 27.5; },
          ticks: { autoSkip: false, maxRotation: 0, font: { size: 4.5, family: FONT }, color: '#444', padding: 4.5, callback: (v, i) => xLabels[i] },
          grid: {
            color: '#ebebeb', lineWidth: 0.6, tickLength: 2.5, tickWidth: 0.6,
            tickColor: c => (c.tick && Number.isInteger(c.tick.value)) ? '#777' : 'rgba(0,0,0,0)'
          },
          border: { display: false }
        },
        y: {
          min: p.min,
          max: p.max,
          afterBuildTicks: s => { s.ticks = p.tv.map(v => ({ value: v })); },
          afterFit: s => { s.width = 17.5; },
          ticks: { display: false },
          grid: { color: '#ebebeb', lineWidth: 0.6, tickLength: 2.5, tickWidth: 0.6, tickColor: '#777' },
          border: { display: false }
        }
      }
    }
  });
}

for (let k = 0; k < 10; k++) {
  const row = Math.floor(k / 2), c = k % 2;
  makePanel(colX[c], rowY[row], names[k], 'sigma', sigmaPanels[k]);
  makePanel(colX[c + 2], rowY[row], names[k], 'series', seriesPanels[k]);
}
</script>
</body>
</html>
